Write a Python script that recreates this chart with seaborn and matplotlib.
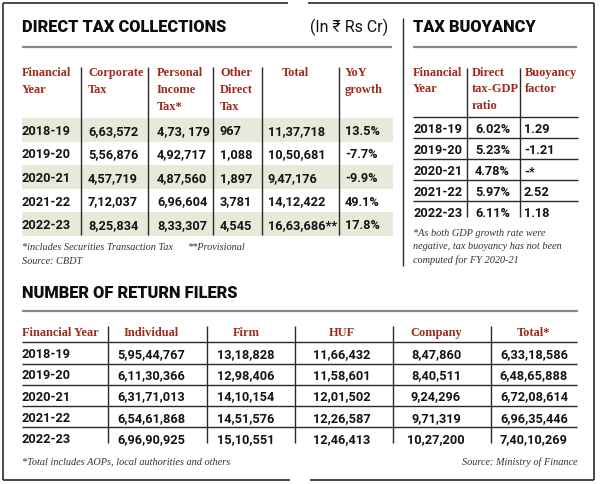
import matplotlib
matplotlib.use('Agg')
import matplotlib.pyplot as plt
import seaborn as sns
from matplotlib import font_manager as fm

# ---- data ----
years = ['2018-19', '2019-20', '2020-21', '2021-22', '2022-23']

# Direct tax collections (In Rs Cr)
corporate_tax = ['6,63,572', '5,56,876', '4,57,719', '7,12,037', '8,25,834']
personal_tax = ['4,73, 179', '4,92,717', '4,87,560', '6,96,604', '8,33,307']
other_direct = ['967', '1,088', '1,897', '3,781', '4,545']
total_tax = ['11,37,718', '10,50,681', '9,47,176', '14,12,422', '16,63,686**']
yoy_growth = ['13.5%', '-7.7%', '-9.9%', '49.1%', '17.8%']
tax_headers = [['Financial', 'Year'], ['Corporate', 'Tax'], ['Personal', 'Income', 'Tax*'],
               ['Other', 'Direct', 'Tax'], ['Total'], ['YoY', 'growth']]

# Tax buoyancy
tax_gdp_ratio = ['6.02%', '5.23%', '4.78%', '5.97%', '6.11%']
buoyancy = ['1.29', '-1.21', '-*', '2.52', '1.18']
buoy_headers = [['Financial', 'Year'], ['Direct', 'tax-GDP', 'ratio'], ['Buoyancy', 'factor']]

# Number of return filers
filers_individual = ['5,95,44,767', '6,11,30,366', '6,31,71,013', '6,54,61,868', '6,96,90,925']
filers_firm = ['13,18,828', '12,98,406', '14,10,154', '14,51,576', '15,10,551']
filers_huf = ['11,66,432', '11,58,601', '12,01,502', '12,26,587', '12,46,413']
filers_company = ['8,47,860', '8,40,511', '9,24,296', '9,71,319', '10,27,200']
filers_total = ['6,33,18,586', '6,48,65,888', '6,72,08,614', '6,96,35,446', '7,40,10,269']
filer_headers = ['Financial Year', 'Individual', 'Firm', 'HUF', 'Company', 'Total*']

# ---- fonts ----
available = {f.name for f in fm.fontManager.ttflist}


def pick(*names):
    for n in names:
        if n in available:
            return n
    return 'DejaVu Sans'


SANS = pick('Liberation Sans Narrow', 'Roboto', 'Liberation Sans')
SERIF = pick('Liberation Serif', 'DejaVu Serif')

sns.set_theme(style='white')
plt.rcParams['font.family'] = [SANS, 'DejaVu Sans']

RED = '#9f2a1c'
INK = '#141414'
SHADE = '#e5eada'
RULE = '#8a8a8a'
LINE = '#2a2a2a'

fig = plt.figure(figsize=(6, 4.84), dpi=100)
ax = fig.add_axes([0, 0, 1, 1])
ax.set_xlim(0, 600)
ax.set_ylim(484, 0)
ax.axis('off')

# outer frame with small gaps top and bottom
ax.hlines([3, 3], [3, 308], [288, 594], color=LINE, lw=1.2)
ax.hlines([480, 480], [3, 310], [290, 594], color=LINE, lw=1.2)
ax.vlines([3, 594], 3, 480, color=LINE, lw=1.2)
ax.vlines(403, 18, 266, color=LINE, lw=1.0)

title_kw = dict(fontsize=11.8, fontweight='black', color='#0d0d0d', va='center')
head_kw = dict(family=SERIF, fontsize=8.9, fontweight='bold', color=RED, va='center')
data_kw = dict(fontsize=9.2, fontweight='bold', color=INK, va='center_baseline')
note_kw = dict(family=SERIF, fontsize=7.4, style='italic', color='#333333', va='center')

# ---- Direct tax collections ----
ax.text(22, 27, 'DIRECT TAX COLLECTIONS', **title_kw)
ax.text(388, 27, '(In ₹ Rs Cr)', fontsize=11.5, color='#111111', va='center', ha='right',
        family=[SANS, 'DejaVu Sans'])
ax.hlines(47, 22, 392, color=RULE, lw=1.6)

col_x = [22, 88, 157, 220, 268, 345]
head_x = [22, 88, 157, 220, 282, 345]
row_y = [130 + 23.5 * i for i in range(len(years))]
ax.barh(row_y[0::2], 393 - 22, left=22, height=23.5, color=SHADE, lw=0)
ax.vlines([81, 148, 213, 262, 339], 67, 235, color=LINE, lw=1.0)
for x, lines in zip(head_x, tax_headers):
    for j, t in enumerate(lines):
        ax.text(x, 73 + 17 * j, t, **head_kw)
for x, col in zip(col_x, [years, corporate_tax, personal_tax, other_direct, total_tax, yoy_growth]):
    for y, v in zip(row_y, col):
        ax.text(x, y, v, **data_kw)
ax.text(22, 248, '*includes Securities Transaction Tax', **note_kw)
ax.text(187, 248, '**Provisional', **note_kw)
ax.text(22, 262, 'Source: CBDT', **note_kw)

# ---- Tax buoyancy ----
ax.text(413, 27, 'TAX BUOYANCY', **title_kw)
ax.hlines(47, 413, 577, color=RULE, lw=1.6)
b_row_y = [128 + 21 * i for i in range(len(years))]
ax.hlines([y - 11 for y in b_row_y], 413, 578, color=LINE, lw=1.0)
ax.vlines([467, 520], 68, 217, color=LINE, lw=1.0)
for x, lines in zip([413, 472, 525], buoy_headers):
    for j, t in enumerate(lines):
        ax.text(x, 73 + 16.5 * j, t, **head_kw)
for x, col in zip([413, 475, 524], [years, tax_gdp_ratio, buoyancy]):
    for y, v in zip(b_row_y, col):
        ax.text(x, y, v, **data_kw)
for j, t in enumerate(['*As both GDP growth rate were', 'negative, tax buoyancy has not been',
                       'computed for FY 2020-21']):
    ax.text(413, 233 + 13.5 * j, t, **note_kw)

# ---- Number of return filers ----
ax.text(22, 293, 'NUMBER OF RETURN FILERS', **title_kw)
ax.hlines(311, 22, 578, color=RULE, lw=1.6)
f_row_y = [353 + 21.3 * i for i in range(len(years))]
ax.hlines([y - 10.8 for y in f_row_y], 22, 577, color=LINE, lw=1.0)
ax.vlines([108, 207, 295, 393, 491], 326, 443, color=LINE, lw=1.0)
f_centers = [151, 246, 342, 436, 534]
ax.text(22, 333, filer_headers[0], **head_kw)
for x, t in zip(f_centers, filer_headers[1:]):
    ax.text(x, 333, t, ha='center', **head_kw)
for y, v in zip(f_row_y, years):
    ax.text(22, y, v, **data_kw)
for x, col in zip(f_centers, [filers_individual, filers_firm, filers_huf, filers_company, filers_total]):
    for y, v in zip(f_row_y, col):
        ax.text(x, y, v, ha='center', **data_kw)
ax.text(22, 462, '*Total includes AOPs, local authorities and others', **note_kw)
ax.text(577, 462, 'Source: Ministry of Finance', ha='right', **note_kw)

fig.savefig('out.png', dpi=100, facecolor='white')
